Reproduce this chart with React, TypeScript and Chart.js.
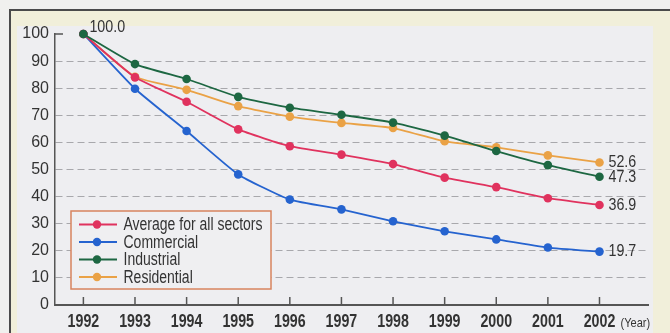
import React, { useEffect, useRef } from "react";
import { Chart, registerables } from "chart.js";

Chart.register(...registerables);

const years = [1992, 1993, 1994, 1995, 1996, 1997, 1998, 1999, 2000, 2001, 2002];
const average = [100, 84.0, 75.0, 64.8, 58.6, 55.5, 52.0, 47.0, 43.5, 39.4, 36.9];
const commercial = [100, 79.8, 64.2, 48.2, 38.9, 35.3, 30.9, 27.2, 24.2, 21.2, 19.7];
const industrial = [100, 88.9, 83.4, 76.8, 72.8, 70.2, 67.3, 62.5, 56.8, 51.6, 47.3];
const residential = [100, 84.2, 79.4, 73.4, 69.5, 67.2, 65.3, 60.4, 58.2, 55.2, 52.6];
const seriesNames = ["Average for all sectors", "Commercial", "Industrial", "Residential"];
const seriesColors = ["#e0325e", "#2563cf", "#1d6742", "#eaa246"];
const yTicks = [0, 10, 20, 30, 40, 50, 60, 70, 80, 90, 100];
const startLabel = "100.0";
const unitLabel = "(Year)";

const SANS = '"Liberation Sans", Arial, sans-serif';

function narrowText(ctx: any, text: string, x: number, y: number, sx: number, align: string) {
  ctx.save();
  ctx.translate(x, y);
  ctx.scale(sx, 1);
  ctx.textAlign = align;
  ctx.fillText(text, 0, 0);
  ctx.restore();
}

const decor = {
  id: "decor",
  beforeDraw(chart: any) {
    const { ctx, width, height } = chart;
    ctx.save();
    ctx.fillStyle = "#f0f0ee";
    ctx.fillRect(0, 0, width, height);
    ctx.fillStyle = "#f1efda";
    ctx.fillRect(10, 10, width - 10, height - 10);
    ctx.fillStyle = "#eeeef1";
    ctx.fillRect(17, 26, 636, height - 26);
    ctx.strokeStyle = "#4a4a4a";
    ctx.lineWidth = 2;
    ctx.beginPath();
    ctx.moveTo(10, height);
    ctx.lineTo(10, 10);
    ctx.lineTo(width, 10);
    ctx.stroke();
    ctx.restore();
  },
  afterDraw(chart: any) {
    const { ctx, chartArea, scales } = chart;
    const xs = scales.x;
    const ys = scales.y;
    ctx.save();
    // short tick at top of y axis
    ctx.strokeStyle = "#555";
    ctx.lineWidth = 1.5;
    const yTop = ys.getPixelForValue(yTicks[yTicks.length - 1]);
    ctx.beginPath();
    ctx.moveTo(chartArea.left, yTop);
    ctx.lineTo(chartArea.left + 8, yTop);
    ctx.stroke();
    // x tick marks inside + labels
    ctx.fillStyle = "#333";
    ctx.font = `bold 18px ${SANS}`;
    ctx.textBaseline = "alphabetic";
    xs.ticks.forEach((t: any) => {
      const px = xs.getPixelForValue(t.value);
      ctx.beginPath();
      ctx.moveTo(px, chartArea.bottom - 8);
      ctx.lineTo(px, chartArea.bottom);
      ctx.stroke();
      narrowText(ctx, String(t.value), px, chartArea.bottom + 22, 0.79, "center");
    });
    // unit label
    ctx.font = `13px ${SANS}`;
    narrowText(ctx, unitLabel, xs.getPixelForValue(years[years.length - 1]) + 21, chartArea.bottom + 22, 0.85, "left");
    // value labels
    ctx.font = `17px ${SANS}`;
    ctx.textBaseline = "middle";
    chart.data.datasets.forEach((ds: any, i: number) => {
      const meta = chart.getDatasetMeta(i);
      const last = meta.data[meta.data.length - 1];
      const v = ds.data[ds.data.length - 1].y;
      narrowText(ctx, v.toFixed(1), last.x + 9, last.y, 0.84, "left");
    });
    const m0 = chart.getDatasetMeta(0).data[0];
    narrowText(ctx, startLabel, m0.x + 6, m0.y - 7, 0.84, "left");
    // legend
    const lx = 71, ly = 211, lw = 200, lh = 78;
    ctx.fillStyle = "#efeff1";
    ctx.fillRect(lx, ly, lw, lh);
    ctx.strokeStyle = "#d8845e";
    ctx.lineWidth = 1.5;
    ctx.strokeRect(lx, ly, lw, lh);
    ctx.font = `17.5px ${SANS}`;
    seriesNames.forEach((name, i) => {
      const cy = ly + 13.5 + i * 17.5;
      ctx.strokeStyle = seriesColors[i];
      ctx.lineWidth = 1.8;
      ctx.beginPath();
      ctx.moveTo(lx + 8, cy);
      ctx.lineTo(lx + 46, cy);
      ctx.stroke();
      ctx.fillStyle = seriesColors[i];
      ctx.beginPath();
      ctx.arc(lx + 26, cy, 4.2, 0, Math.PI * 2);
      ctx.fill();
      ctx.fillStyle = "#333";
      ctx.textBaseline = "middle";
      narrowText(ctx, name, lx + 52.5, cy + 1, 0.8, "left");
    });
    ctx.restore();
  },
};

export default function App() {
  const ref = useRef<HTMLCanvasElement | null>(null);
  useEffect(() => {
    if (!ref.current) return;
    const allSeries = [average, commercial, industrial, residential];
    const orders = [1, 2, 0, 3];
    const chart = new Chart(ref.current, {
      type: "line",
      data: {
        datasets: allSeries.map((vals, i) => ({
          label: seriesNames[i],
          data: vals.map((v, j) => ({ x: years[j], y: v })),
          borderColor: seriesColors[i],
          backgroundColor: seriesColors[i],
          pointBackgroundColor: seriesColors[i],
          pointBorderColor: seriesColors[i],
          pointRadius: 4.3,
          pointBorderWidth: 0,
          borderWidth: 1.8,
          tension: 0.15,
          clip: false as any,
          order: orders[i],
        })),
      },
      options: {
        animation: false,
        responsive: false,
        devicePixelRatio: 1,
        layout: { padding: { top: 34, right: 22, bottom: 0, left: 0 } },
        plugins: { legend: { display: false }, tooltip: { enabled: false } },
        scales: {
          x: {
            type: "linear",
            min: 1991.45,
            max: 2002.94,
            afterBuildTicks: (scale: any) => {
              scale.ticks = years.map((v) => ({ value: v }));
            },
            afterFit: (scale: any) => {
              scale.height = 28;
            },
            grid: { display: false, drawTicks: false },
            border: { display: true, color: "#555", width: 2 },
            ticks: { display: false },
          },
          y: {
            min: 0,
            max: 100,
            afterBuildTicks: (scale: any) => {
              scale.ticks = yTicks.map((v) => ({ value: v }));
            },
            afterFit: (scale: any) => {
              scale.width = 55;
            },
            grid: {
              drawTicks: false,
              color: (c: any) =>
                c.tick && c.tick.value > 0 && c.tick.value < 100 ? "#a8a8ac" : "rgba(0,0,0,0)",
              lineWidth: 1,
            },
            border: { display: true, color: "#555", width: 1.5, dash: [7, 4] },
            ticks: {
              padding: 6,
              color: "#333",
              font: { family: SANS, size: 16 },
            },
          },
        },
      },
      plugins: [decor],
    } as any);
    return () => chart.destroy();
  }, []);
  return (
    <div style={{ position: "absolute", left: 0, top: 0, width: 670, height: 333 }}>
      <canvas ref={ref} width={670} height={333} style={{ display: "block", width: 670, height: 333 }} />
    </div>
  );
}
